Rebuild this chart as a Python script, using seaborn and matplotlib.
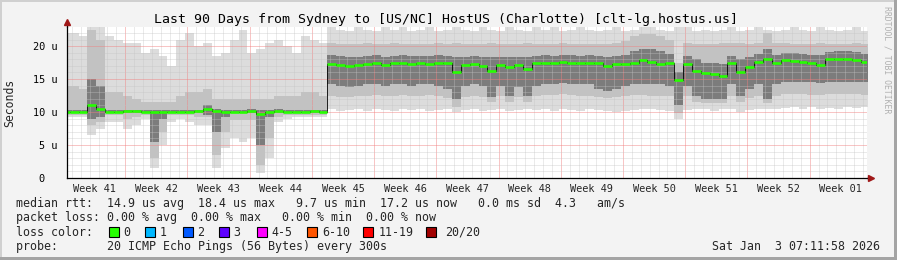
import numpy as np
import matplotlib
matplotlib.use("Agg")
import matplotlib.pyplot as plt
import seaborn as sns
from matplotlib.patches import Rectangle

# ---------------- data (microseconds, one value per day-bin) ----------------
median = [10.0, 10.0, 10.0, 11.0, 10.5, 10.0, 10.0, 10.2, 10.2, 10.0,
          10.0, 10.0, 10.0, 10.0, 10.0, 10.1, 10.4, 10.2, 10.0, 10.0,
          10.0, 10.2, 9.7, 10.0, 10.2, 10.0, 10.0, 10.0, 10.1, 10.0,
          17.3, 17.2, 17.0, 17.1, 17.3, 17.4, 17.2, 17.4, 17.5, 17.3,
          17.4, 17.3, 17.5, 17.4, 16.0, 17.2, 17.3, 17.0, 16.2, 17.2,
          16.8, 17.2, 16.6, 17.4, 17.5, 17.4, 17.6, 17.5, 17.4, 17.5,
          17.4, 17.0, 17.3, 17.3, 17.5, 17.9, 17.6, 17.3, 17.4, 14.8,
          17.3, 16.3, 15.9, 15.7, 15.4, 17.4, 16.0, 16.9, 17.6, 18.0,
          17.4, 17.9, 17.7, 17.6, 17.5, 17.2, 18.0, 18.1, 18.1, 17.9, 17.6]

smoke_max = [22.0, 22.0, 21.5, 22.9, 22.9, 21.5, 21.0, 20.5, 20.5, 19.0,
             19.5, 18.5, 17.0, 21.0, 22.0, 20.0, 20.5, 18.5, 19.0, 21.0,
             22.5, 19.0, 19.5, 20.5, 21.0, 20.0, 19.0, 21.5, 21.0, 20.5,
             22.9, 22.5, 22.3, 22.9, 22.5, 22.3, 22.9, 22.5, 22.9, 22.3,
             22.5, 22.9, 22.3, 22.5, 22.9, 22.5, 22.3, 22.9, 22.5, 22.3,
             22.9, 22.5, 22.3, 22.9, 22.5, 22.9, 22.3, 22.5, 22.9, 22.5,
             22.3, 22.5, 22.9, 22.3, 22.5, 22.9, 22.9, 22.5, 22.3, 22.9,
             22.9, 22.3, 22.5, 22.3, 22.5, 22.9, 22.3, 22.5, 22.9, 22.5,
             22.3, 22.5, 22.9, 22.5, 22.3, 22.9, 22.5, 22.3, 22.5, 22.9, 22.3]

smoke_hi2 = [14.0, 14.0, 13.5, 22.5, 21.0, 13.0, 13.0, 12.5, 12.0, 11.5,
             11.5, 11.5, 11.5, 12.5, 13.0, 13.0, 13.5, 12.0, 12.0, 12.0,
             12.0, 12.0, 12.0, 12.0, 12.5, 12.5, 12.5, 13.0, 13.0, 12.5,
             20.5, 20.3, 20.3, 20.3, 20.5, 20.3, 20.3, 20.5, 20.3, 20.3,
             20.3, 20.3, 20.5, 20.3, 20.5, 20.3, 20.3, 20.3, 20.5, 20.3,
             20.3, 20.3, 20.5, 20.3, 20.3, 20.3, 20.5, 20.3, 20.3, 20.3,
             20.3, 20.3, 20.5, 20.8, 21.5, 21.8, 21.8, 21.5, 21.0, 17.5,
             20.5, 20.3, 20.3, 20.3, 20.5, 20.5, 20.5, 20.3, 20.5, 22.0,
             20.5, 20.5, 20.3, 20.3, 20.3, 20.5, 20.3, 20.3, 20.3, 20.5, 20.3]

smoke_hi1 = [10.3, 10.3, 10.3, 15.0, 14.0, 10.3, 10.3, 10.3, 10.3, 10.3,
             10.3, 10.3, 10.3, 10.3, 10.3, 10.3, 11.0, 10.4, 10.3, 10.3,
             10.3, 10.4, 10.3, 10.3, 10.4, 10.3, 10.3, 10.3, 10.3, 10.3,
             18.6, 18.5, 18.4, 18.4, 18.5, 18.6, 18.4, 18.5, 18.6, 18.5,
             18.5, 18.5, 18.6, 18.5, 18.3, 18.4, 18.5, 18.4, 18.3, 18.4,
             18.3, 18.4, 18.3, 18.5, 18.6, 18.5, 18.6, 18.6, 18.5, 18.6,
             18.5, 18.4, 18.5, 18.6, 19.3, 19.5, 19.5, 19.2, 18.8, 16.0,
             18.5, 18.0, 17.5, 17.4, 17.3, 18.5, 18.0, 18.3, 18.8, 19.5,
             18.6, 19.0, 18.9, 18.8, 18.7, 18.6, 19.1, 19.2, 19.2, 19.1, 18.8]

smoke_lo1 = [9.8, 9.8, 9.8, 9.0, 9.3, 9.8, 9.8, 9.8, 9.8, 9.8,
             5.5, 9.0, 9.8, 9.8, 9.8, 9.8, 9.6, 7.0, 9.2, 9.8,
             9.8, 9.8, 5.0, 9.3, 9.8, 9.8, 9.8, 9.8, 9.8, 9.8,
             14.3, 14.0, 13.8, 14.0, 14.2, 14.3, 14.0, 14.2, 14.3, 14.0,
             14.2, 14.3, 14.0, 13.5, 12.0, 14.0, 14.2, 14.0, 12.3, 14.0,
             12.5, 13.8, 12.5, 14.0, 14.3, 14.3, 14.4, 14.3, 14.3, 14.2,
             13.5, 13.2, 13.5, 14.0, 14.2, 14.3, 14.2, 14.2, 14.0, 11.0,
             14.0, 12.5, 12.0, 12.0, 12.0, 14.2, 12.5, 13.5, 14.2, 12.0,
             14.3, 14.5, 14.5, 14.5, 14.5, 14.4, 14.5, 14.5, 14.6, 14.5, 14.5]

smoke_lo2 = [9.5, 9.5, 9.5, 8.0, 8.5, 9.5, 9.5, 9.0, 9.3, 9.5,
             3.0, 7.0, 9.5, 9.5, 9.5, 9.3, 9.2, 3.5, 7.0, 8.8,
             8.8, 8.8, 2.0, 6.0, 9.3, 9.5, 9.5, 9.5, 9.5, 9.5,
             12.5, 12.3, 12.3, 12.5, 12.5, 12.6, 12.4, 12.5, 12.6, 12.4,
             12.5, 12.6, 12.4, 12.2, 10.8, 12.3, 12.5, 12.3, 11.5, 12.4,
             11.6, 12.3, 11.6, 12.4, 12.6, 12.6, 12.7, 12.6, 12.5, 12.5,
             12.3, 12.2, 12.3, 12.5, 12.6, 12.6, 12.5, 12.5, 12.4, 9.8,
             12.4, 11.5, 11.3, 11.3, 11.4, 12.5, 11.5, 12.2, 12.5, 11.3,
             12.5, 12.7, 12.7, 12.7, 12.6, 12.6, 12.7, 12.7, 12.8, 12.7, 12.6]

smoke_min = [9.3, 9.3, 9.3, 6.5, 7.5, 8.5, 8.5, 7.5, 8.0, 9.0,
             1.5, 5.0, 8.5, 9.0, 8.5, 8.0, 8.0, 1.5, 4.5, 6.0,
             5.5, 6.0, 0.8, 3.0, 8.5, 9.0, 9.2, 9.2, 9.2, 9.2,
             10.4, 10.2, 10.3, 10.5, 10.2, 10.4, 10.3, 10.2, 10.5, 10.3,
             10.4, 10.2, 10.3, 10.4, 10.0, 10.3, 10.5, 10.2, 10.3, 10.4,
             10.2, 10.3, 10.4, 10.3, 10.5, 10.2, 10.4, 10.3, 10.2, 10.4,
             10.3, 10.2, 10.0, 10.1, 10.3, 10.4, 10.4, 10.3, 10.2, 9.0,
             10.3, 10.5, 10.4, 10.2, 10.4, 10.5, 10.0, 10.3, 10.4, 10.4,
             10.5, 10.6, 10.7, 10.5, 10.7, 10.4, 10.6, 10.5, 10.7, 10.6, 10.8]

week_labels = ["Week 41", "Week 42", "Week 43", "Week 44", "Week 45", "Week 46",
               "Week 47", "Week 48", "Week 49", "Week 50", "Week 51", "Week 52",
               "Week 01"]
y_ticks = [0, 5, 10, 15, 20]
y_tick_labels = ["0  ", "5 u", "10 u", "15 u", "20 u"]

title = "Last 90 Days from Sydney to [US/NC] HostUS (Charlotte) [clt-lg.hostus.us]"
legend_rtt = "median rtt:  14.9 us avg  18.4 us max   9.7 us min  17.2 us now   0.0 ms sd  4.3   am/s"
legend_loss = "packet loss: 0.00 % avg  0.00 % max   0.00 % min  0.00 % now"
loss_labels = ["0", "1", "2", "3", "4-5", "6-10", "11-19", "20/20"]
loss_colors = ["#26ff00", "#00b8ff", "#0059ff", "#5e00ff", "#ff00ff", "#ff5500", "#ff0000", "#a10000"]
probe_text = "probe:       20 ICMP Echo Pings (56 Bytes) every 300s"
date_text = "Sat Jan  3 07:11:58 2026"

# ---------------- layout ----------------
sns.set_style("white")
plt.rcParams['font.family'] = ['DejaVu Sans Mono']

W, H = 897, 260
fig = plt.figure(figsize=(W / 100, H / 100), dpi=100)
fig.patch.set_facecolor('#f3f3f3')

X0, X1, YT, YB = 67, 867, 27, 178
ax = fig.add_axes([X0 / W, (H - YB) / H, (X1 - X0) / W, (YB - YT) / H])
ax.set_facecolor('white')

bin_offset = -0.7                       # first day-bin starts 0.7 day before the left edge
t = np.arange(len(median)) + bin_offset
te = np.append(t, t[-1] + 1)


def ext(a):
    return np.append(a, a[-1])


ax.fill_between(te, ext(smoke_min), ext(smoke_max), step='post', color='#dcdcdc', lw=0, zorder=1)
ax.fill_between(te, ext(smoke_lo2), ext(smoke_hi2), step='post', color='#c2c2c2', lw=0, zorder=1.1)
ax.fill_between(te, ext(smoke_lo1), ext(smoke_hi1), step='post', color='#7c7c7c', lw=0, zorder=1.2)

sns.lineplot(x=te, y=ext(median), drawstyle='steps-post', color='black', linewidth=0.6,
             ax=ax, zorder=4, legend=False)
ax.hlines(median, t, t + 1, colors='#26ff00', linewidth=1.9, zorder=5)

ax.set_xlim(0, 90)
ax.set_ylim(0, 22.9)

# grid (drawn over the smoke like rrdtool)
first_monday = 6.55
dot = (0, (1, 1))
for d in np.arange(first_monday - 6, 90, 1.0):
    if abs(((d - first_monday) / 7) - round((d - first_monday) / 7)) < 1e-6:
        ax.axvline(d, color='#f08080', lw=0.72, ls=dot, zorder=3, alpha=0.9)
    else:
        ax.axvline(d, color='#c4c4c4', lw=0.72, ls=dot, zorder=3, alpha=0.7)
for v in range(1, 23):
    if v % 5 == 0:
        ax.axhline(v, color='#f08080', lw=0.72, ls=dot, zorder=3, alpha=0.9)
    else:
        ax.axhline(v, color='#c4c4c4', lw=0.72, ls=dot, zorder=3, alpha=0.7)

# ticks
ax.set_yticks(y_ticks)
ax.set_yticklabels(y_tick_labels)
ax.set_yticks(np.arange(1, 23), minor=True)
week_centers = first_monday - 3.5 + 7 * np.arange(len(week_labels))
ax.set_xticks(week_centers)
ax.set_xticklabels(week_labels)
ax.set_xticks(first_monday + 7 * np.arange(12), minor=True)
ax.tick_params(axis='y', which='major', length=4, width=0.8, direction='out', pad=3.0,
               labelsize=7.4, colors='black')
ax.tick_params(axis='y', which='minor', length=2, width=0.6, direction='out')
ax.tick_params(axis='x', which='major', length=0, pad=4.6, labelsize=7.4)
ax.tick_params(axis='x', which='minor', length=2.5, width=0.7, direction='out', color='#f08080')

for s in ['top', 'right']:
    ax.spines[s].set_visible(False)
for s in ['left', 'bottom']:
    ax.spines[s].set_color('black')
    ax.spines[s].set_linewidth(0.9)
    ax.spines[s].set_zorder(6)

# axis arrows
ax.plot([0, 0], [1, 1.035], color='black', lw=0.9, transform=ax.transAxes, clip_on=False, zorder=6)
ax.plot([1, 1.006], [0, 0], color='black', lw=0.9, transform=ax.transAxes, clip_on=False, zorder=6)
ax.plot([0], [1.035], marker='^', ms=4.5, color='#a01818', transform=ax.transAxes, clip_on=False, zorder=7)
ax.plot([1.005], [0], marker='>', ms=4.5, color='#a01818', transform=ax.transAxes, clip_on=False, zorder=7)

# texts
fig.text(446 / W, 1 - 19 / H, title, ha='center', va='center', fontsize=9.5, color='black')
fig.text(10 / W, 1 - 103 / H, 'Seconds', rotation=90, ha='center', va='center', fontsize=8.3)
fig.text(887 / W, 1 - 60 / H, 'RRDTOOL / TOBI OETIKER', rotation=270, ha='center', va='center',
         fontsize=5.9, color='#b0b0b0')

LS = 8.35
fig.text(16 / W, 1 - 204 / H, legend_rtt, ha='left', va='center', fontsize=LS)
fig.text(16 / W, 1 - 218 / H, legend_loss, ha='left', va='center', fontsize=LS)
fig.text(16 / W, 1 - 232 / H, "loss color:", ha='left', va='center', fontsize=LS)
fig.text(16 / W, 1 - 246.5 / H, probe_text, ha='left', va='center', fontsize=LS)
fig.text(880 / W, 1 - 246.5 / H, date_text, ha='right', va='center', fontsize=LS)

box_x = [109, 145, 183, 219, 257, 307, 363, 426]
lab_x = [123, 160, 197, 233, 271, 322, 379, 445]
for bx, lx, lab, col in zip(box_x, lab_x, loss_labels, loss_colors):
    fig.add_artist(Rectangle((bx / W, 1 - 237 / H), 10 / W, 10 / H, transform=fig.transFigure,
                             facecolor=col, edgecolor='black', lw=0.8))
    fig.text(lx / W, 1 - 232 / H, lab, ha='left', va='center', fontsize=LS)

# 3D-ish border
fig.add_artist(Rectangle((0, 1 - 2 / H), 1, 2 / H, transform=fig.transFigure, color='#d0d0d0', lw=0))
fig.add_artist(Rectangle((0, 0), 2 / W, 1, transform=fig.transFigure, color='#d0d0d0', lw=0))
fig.add_artist(Rectangle((0, 0), 1, 3 / H, transform=fig.transFigure, color='#a4a4a4', lw=0))
fig.add_artist(Rectangle((1 - 3 / W, 0), 3 / W, 1, transform=fig.transFigure, color='#a4a4a4', lw=0))

fig.savefig('out.png', dpi=100, facecolor=fig.get_facecolor())
